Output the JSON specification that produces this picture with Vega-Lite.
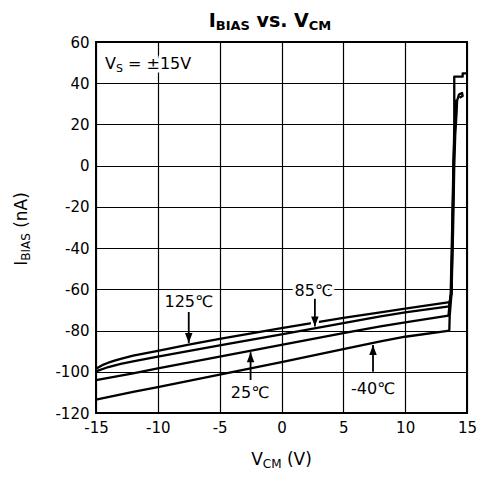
{
  "$schema": "https://vega.github.io/schema/vega-lite/v6.json",
  "width": 371,
  "height": 371,
  "autosize": {"type": "none"},
  "padding": {"left": 96, "top": 42, "right": 12, "bottom": 67},
  "background": "white",
  "config": {"view": {"stroke": "black", "strokeWidth": 2}, "font": "DejaVu Sans"},
  "datasets": {
    "curves": [
      {"series": "125", "i": 1, "x": -15, "y": -98.5},
      {"series": "125", "i": 2, "x": -14.5, "y": -96.8},
      {"series": "125", "i": 3, "x": -14, "y": -95.6},
      {"series": "125", "i": 4, "x": -13.5, "y": -94.6},
      {"series": "125", "i": 5, "x": -13, "y": -93.7},
      {"series": "125", "i": 6, "x": -12, "y": -92.2},
      {"series": "125", "i": 7, "x": -10, "y": -89.8},
      {"series": "125", "i": 8, "x": -7.5, "y": -86.8},
      {"series": "125", "i": 9, "x": -5, "y": -84.0},
      {"series": "125", "i": 10, "x": 0, "y": -78.8},
      {"series": "125", "i": 11, "x": 5, "y": -73.9},
      {"series": "125", "i": 12, "x": 8, "y": -71.2},
      {"series": "125", "i": 13, "x": 10, "y": -69.4},
      {"series": "125", "i": 14, "x": 13.6, "y": -66.2},
      {"series": "125", "i": 15, "x": 13.75, "y": -62},
      {"series": "125", "i": 16, "x": 13.88, "y": -30},
      {"series": "125", "i": 17, "x": 13.97, "y": 0},
      {"series": "125", "i": 18, "x": 14.05, "y": 15},
      {"series": "125", "i": 19, "x": 14.15, "y": 25},
      {"series": "125", "i": 20, "x": 14.2, "y": 31.5},
      {"series": "125", "i": 21, "x": 14.35, "y": 34.5},
      {"series": "125", "i": 22, "x": 14.6, "y": 35.3},
      {"series": "125", "i": 23, "x": 14.65, "y": 33.8},
      {"series": "125", "i": 24, "x": 14.4, "y": 33.0},
      {"series": "85", "i": 1, "x": -15, "y": -99.8},
      {"series": "85", "i": 2, "x": -14, "y": -97.7},
      {"series": "85", "i": 3, "x": -13, "y": -96.2},
      {"series": "85", "i": 4, "x": -12, "y": -95.0},
      {"series": "85", "i": 5, "x": -10, "y": -92.6},
      {"series": "85", "i": 6, "x": -5, "y": -87.2},
      {"series": "85", "i": 7, "x": 0, "y": -81.8},
      {"series": "85", "i": 8, "x": 5, "y": -76.4},
      {"series": "85", "i": 9, "x": 8, "y": -73.1},
      {"series": "85", "i": 10, "x": 10, "y": -71.2},
      {"series": "85", "i": 11, "x": 13.55, "y": -68.3},
      {"series": "85", "i": 12, "x": 13.72, "y": -62},
      {"series": "85", "i": 13, "x": 13.84, "y": -30},
      {"series": "85", "i": 14, "x": 13.92, "y": 0},
      {"series": "85", "i": 15, "x": 14.0, "y": 15},
      {"series": "85", "i": 16, "x": 14.1, "y": 25},
      {"series": "85", "i": 17, "x": 14.15, "y": 32},
      {"series": "25", "i": 1, "x": -15, "y": -104.0},
      {"series": "25", "i": 2, "x": -12, "y": -100.8},
      {"series": "25", "i": 3, "x": -10, "y": -98.3},
      {"series": "25", "i": 4, "x": -5, "y": -92.6},
      {"series": "25", "i": 5, "x": 0, "y": -86.9},
      {"series": "25", "i": 6, "x": 5, "y": -81.3},
      {"series": "25", "i": 7, "x": 8, "y": -78.0},
      {"series": "25", "i": 8, "x": 10, "y": -76.0},
      {"series": "25", "i": 9, "x": 13.5, "y": -72.8},
      {"series": "25", "i": 10, "x": 13.68, "y": -62},
      {"series": "25", "i": 11, "x": 13.8, "y": -30},
      {"series": "25", "i": 12, "x": 13.9, "y": 0},
      {"series": "25", "i": 13, "x": 13.98, "y": 15},
      {"series": "25", "i": 14, "x": 14.07, "y": 25},
      {"series": "25", "i": 15, "x": 14.12, "y": 32},
      {"series": "-40", "i": 1, "x": -15, "y": -113.5},
      {"series": "-40", "i": 2, "x": -12, "y": -109.8},
      {"series": "-40", "i": 3, "x": -10, "y": -107.4},
      {"series": "-40", "i": 4, "x": -5, "y": -101.4},
      {"series": "-40", "i": 5, "x": 0, "y": -95.3},
      {"series": "-40", "i": 6, "x": 5, "y": -89.0},
      {"series": "-40", "i": 7, "x": 8, "y": -85.3},
      {"series": "-40", "i": 8, "x": 10, "y": -83.0},
      {"series": "-40", "i": 9, "x": 13.45, "y": -80.2},
      {"series": "-40", "i": 10, "x": 13.57, "y": -79.8},
      {"series": "-40", "i": 11, "x": 13.6, "y": -73},
      {"series": "-40", "i": 12, "x": 13.75, "y": -62},
      {"series": "-40", "i": 13, "x": 13.83, "y": -30},
      {"series": "-40", "i": 14, "x": 13.92, "y": 0},
      {"series": "-40", "i": 15, "x": 13.97, "y": 20},
      {"series": "-40", "i": 16, "x": 13.97, "y": 43.2},
      {"series": "-40", "i": 17, "x": 14.65, "y": 43.2},
      {"series": "-40", "i": 18, "x": 14.65, "y": 44.8},
      {"series": "-40", "i": 19, "x": 15, "y": 44.8}
    ],
    "labels": [
      {"x": -7.5, "y": -66.2, "t": "125℃"},
      {"x": 2.6, "y": -60.8, "t": "85℃"},
      {"x": -2.55, "y": -110.3, "t": "25℃"},
      {"x": 7.4, "y": -108.4, "t": "-40℃"}
    ],
    "arrows": [
      {"x": -7.5, "y": -71.0, "y2": -86.0, "dir": "down"},
      {"x": 2.7, "y": -64.6, "y2": -78.0, "dir": "down"},
      {"x": -2.5, "y": -104.0, "y2": -90.5, "dir": "up"},
      {"x": 7.4, "y": -100.0, "y2": -87.0, "dir": "up"}
    ],
    "title": [{"x": -5.89, "y": 67.4}],
    "ytitle": [{"x": -20.58, "y": -48.6}],
    "xtitle": [{"x": -2.45, "y": -145.2}],
    "vs": [{"x": -14.27, "y": 46.75}]
  },
  "encoding": {
    "x": {"field": "x", "type": "quantitative", "title": null,
      "scale": {"domain": [-15, 15], "nice": false, "zero": false},
      "axis": {"values": [-15, -10, -5, 0, 5, 10, 15], "labelExpr": "'' + datum.value", "title": null, "grid": true, "gridColor": "black", "gridWidth": 1.2, "gridOpacity": 1,
        "domain": false, "ticks": false, "tickSize": 0, "labelFont": "DejaVu Sans", "labelFontSize": 15, "labelColor": "black",
        "labelPadding": 7, "labelFlush": false, "labelOverlap": false}},
    "y": {"field": "y", "type": "quantitative", "title": null,
      "scale": {"domain": [-120, 60], "nice": false, "zero": false},
      "axis": {"values": [-120, -100, -80, -60, -40, -20, 0, 20, 40, 60], "labelExpr": "'' + datum.value", "title": null, "grid": true, "gridColor": "black", "gridWidth": 1.2, "gridOpacity": 1,
        "domain": false, "ticks": false, "tickSize": 0, "labelFont": "DejaVu Sans", "labelFontSize": 15, "labelColor": "black",
        "labelPadding": 7, "labelOverlap": false}}
  },
  "layer": [
    {
      "data": {"name": "curves"},
      "mark": {"type": "line", "color": "black", "strokeWidth": 2.3, "strokeJoin": "round"},
      "encoding": {
        "detail": {"field": "series", "type": "nominal"},
        "order": {"field": "i", "type": "quantitative"}
      }
    },
    {
      "data": {"values": [{"x": 2.7, "y": -69.5, "y2": -77.4}]},
      "mark": {"type": "rule", "color": "white", "strokeWidth": 8},
      "encoding": {"y2": {"field": "y2"}}
    },
    {
      "data": {"name": "arrows"},
      "mark": {"type": "rule", "color": "black", "strokeWidth": 1.8},
      "encoding": {"y2": {"field": "y2"}}
    },
    {
      "data": {"name": "arrows"},
      "transform": [{"filter": "datum.dir == 'down'"}],
      "mark": {"type": "point", "shape": "M0,0L-0.75,-2L0.75,-2Z", "size": 100, "filled": true, "color": "black", "opacity": 1, "strokeWidth": 0},
      "encoding": {"y": {"field": "y2", "type": "quantitative", "title": null}}
    },
    {
      "data": {"name": "arrows"},
      "transform": [{"filter": "datum.dir == 'up'"}],
      "mark": {"type": "point", "shape": "M0,0L-0.75,2L0.75,2Z", "size": 100, "filled": true, "color": "black", "opacity": 1, "strokeWidth": 0},
      "encoding": {"y": {"field": "y2", "type": "quantitative", "title": null}}
    },
    {
      "data": {"name": "labels"},
      "mark": {"type": "text", "font": "DejaVu Sans", "fontSize": 16, "fill": "white", "stroke": "white", "strokeWidth": 7, "strokeJoin": "round", "align": "center", "baseline": "middle"},
      "encoding": {"text": {"field": "t"}}
    },
    {
      "data": {"name": "labels"},
      "mark": {"type": "text", "font": "DejaVu Sans", "fontSize": 16, "color": "black", "align": "center", "baseline": "middle"},
      "encoding": {"text": {"field": "t"}}
    },
    {
      "data": {"name": "vs"},
      "mark": {"type": "text", "text": "= ±15V", "font": "DejaVu Sans", "fontSize": 16, "fill": "white", "stroke": "white", "strokeWidth": 7, "strokeJoin": "round", "align": "left", "baseline": "alphabetic", "dx": 23.0}
    },
    {
      "data": {"name": "vs"},
      "mark": {"type": "text", "text": "V", "font": "DejaVu Sans", "fontSize": 16, "color": "black", "align": "left", "baseline": "alphabetic"}
    },
    {
      "data": {"name": "vs"},
      "mark": {"type": "text", "text": "S", "font": "DejaVu Sans", "fontSize": 11, "color": "black", "align": "left", "baseline": "alphabetic", "dx": 10.9, "dy": 3}
    },
    {
      "data": {"name": "vs"},
      "mark": {"type": "text", "text": "= ±15V", "font": "DejaVu Sans", "fontSize": 16, "color": "black", "align": "left", "baseline": "alphabetic", "dx": 23.0}
    },
    {
      "data": {"name": "title"},
      "mark": {"type": "text", "text": "I", "font": "DejaVu Sans", "fontWeight": "bold", "fontSize": 19, "color": "black", "align": "left", "baseline": "alphabetic"}
    },
    {
      "data": {"name": "title"},
      "mark": {"type": "text", "text": "BIAS", "font": "DejaVu Sans", "fontWeight": "bold", "fontSize": 13, "color": "black", "align": "left", "baseline": "alphabetic", "dx": 7.1, "dy": 3}
    },
    {
      "data": {"name": "title"},
      "mark": {"type": "text", "text": "vs. V", "font": "DejaVu Sans", "fontWeight": "bold", "fontSize": 19, "color": "black", "align": "left", "baseline": "alphabetic", "dx": 47.9}
    },
    {
      "data": {"name": "title"},
      "mark": {"type": "text", "text": "CM", "font": "DejaVu Sans", "fontWeight": "bold", "fontSize": 13, "color": "black", "align": "left", "baseline": "alphabetic", "dx": 100.1, "dy": 3}
    },
    {
      "data": {"name": "xtitle"},
      "mark": {"type": "text", "text": "V", "font": "DejaVu Sans", "fontSize": 17, "color": "black", "align": "left", "baseline": "alphabetic"}
    },
    {
      "data": {"name": "xtitle"},
      "mark": {"type": "text", "text": "CM", "font": "DejaVu Sans", "fontSize": 12, "color": "black", "align": "left", "baseline": "alphabetic", "dx": 11.6, "dy": 3}
    },
    {
      "data": {"name": "xtitle"},
      "mark": {"type": "text", "text": "(V)", "font": "DejaVu Sans", "fontSize": 17, "color": "black", "align": "left", "baseline": "alphabetic", "dx": 35.7}
    },
    {
      "data": {"name": "ytitle"},
      "mark": {"type": "text", "text": "I", "font": "DejaVu Sans", "fontSize": 17, "color": "black", "align": "left", "baseline": "alphabetic", "angle": 270}
    },
    {
      "data": {"name": "ytitle"},
      "mark": {"type": "text", "text": "BIAS", "font": "DejaVu Sans", "fontSize": 12, "color": "black", "align": "left", "baseline": "alphabetic", "angle": 270, "dx": 5.0, "dy": 3}
    },
    {
      "data": {"name": "ytitle"},
      "mark": {"type": "text", "text": "(nA)", "font": "DejaVu Sans", "fontSize": 17, "color": "black", "align": "left", "baseline": "alphabetic", "angle": 270, "dx": 38.0}
    }
  ]
}
